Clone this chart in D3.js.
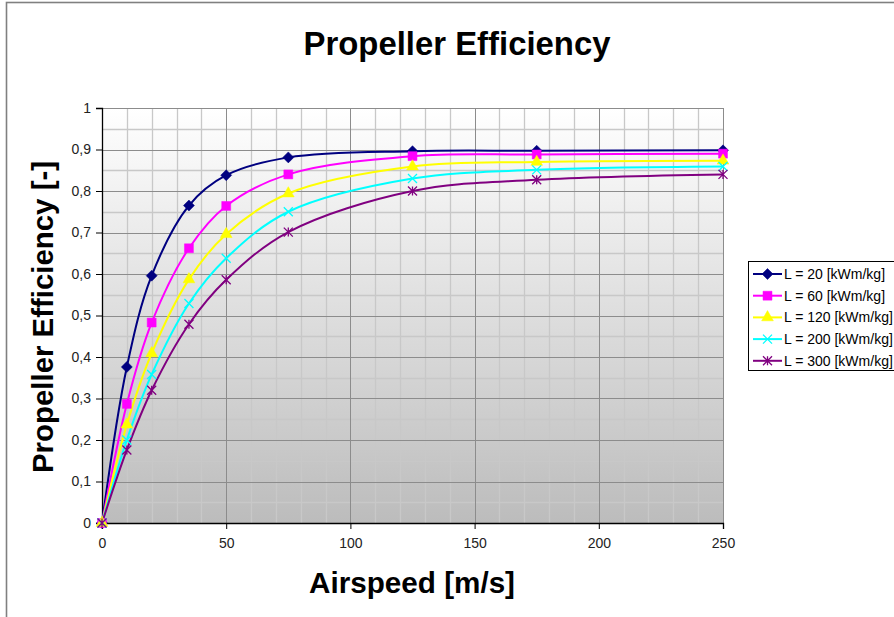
<!DOCTYPE html>
<html><head><meta charset="utf-8">
<script src="https://cdn.jsdelivr.net/npm/d3@7"></script>
<style>body{margin:0;background:#fff;}svg{display:block;font-family:"Liberation Sans",Arial,sans-serif;}</style>
</head><body>
<script>
const airspeed = [0, 10, 20, 35, 50, 75, 125, 175, 250];
const seriesNames = ["L = 20 [kWm/kg]", "L = 60 [kWm/kg]", "L = 120 [kWm/kg]", "L = 200 [kWm/kg]", "L = 300 [kWm/kg]"];
const effL20  = [0, 0.376, 0.596, 0.765, 0.838, 0.881, 0.896, 0.897, 0.898];
const effL60  = [0, 0.287, 0.483, 0.662, 0.764, 0.840, 0.884, 0.888, 0.890];
const effL120 = [0, 0.237, 0.409, 0.587, 0.696, 0.794, 0.859, 0.870, 0.873];
const effL200 = [0, 0.200, 0.358, 0.529, 0.638, 0.750, 0.830, 0.851, 0.859];
const effL300 = [0, 0.176, 0.320, 0.479, 0.586, 0.701, 0.800, 0.827, 0.840];
const xTicks = [0, 50, 100, 150, 200, 250];
const yTicks = [0, 0.1, 0.2, 0.3, 0.4, 0.5, 0.6, 0.7, 0.8, 0.9, 1];

const colors = ["#000080", "#ff00ff", "#ffff00", "#00ffff", "#800080"];
const markers = ["diamond", "square", "triangle", "x", "star"];
const allSeries = [effL20, effL60, effL120, effL200, effL300];

const W = 894, H = 617;
const svg = d3.select("body").append("svg").attr("width", W).attr("height", H);

// chart frame
svg.append("rect").attr("x", 6.5).attr("y", 2.5).attr("width", 1000).attr("height", 1000)
  .attr("fill", "#fff").attr("stroke", "#808080").attr("stroke-width", 1.6);

const x = d3.scaleLinear().domain([0, 250]).range([102, 723]);
const y = d3.scaleLinear().domain([0, 1]).range([523, 108]);

const defs = svg.append("defs");
const grad = defs.append("linearGradient").attr("id", "bg").attr("x1", 0).attr("y1", 0).attr("x2", 0).attr("y2", 1);
grad.append("stop").attr("offset", "0%").attr("stop-color", "#ffffff");
grad.append("stop").attr("offset", "100%").attr("stop-color", "#bcbcbc");

svg.append("rect").attr("x", x(0)).attr("y", y(1)).attr("width", x(250) - x(0)).attr("height", y(0) - y(1))
  .attr("fill", "url(#bg)");

// grid
const g = svg.append("g");
d3.range(0, 251, 10).forEach(v => {
  const major = v % 50 === 0;
  if (!major) g.append("line").attr("x1", Math.round(x(v)) + 0.5).attr("x2", Math.round(x(v)) + 0.5)
    .attr("y1", y(1)).attr("y2", y(0)).attr("stroke", "#c8c8c8").attr("stroke-width", 1.3);
});
d3.range(0, 21).forEach(i => {
  const v = i * 0.05;
  if (i % 2 === 1) g.append("line").attr("y1", Math.round(y(v)) + 0.5).attr("y2", Math.round(y(v)) + 0.5)
    .attr("x1", x(0)).attr("x2", x(250)).attr("stroke", "#c8c8c8").attr("stroke-width", 1.3);
});
xTicks.forEach(v => {
  g.append("line").attr("x1", Math.round(x(v)) + 0.5).attr("x2", Math.round(x(v)) + 0.5)
    .attr("y1", y(1)).attr("y2", y(0)).attr("stroke", "#8c8c8c").attr("stroke-width", 1);
});
yTicks.forEach(v => {
  g.append("line").attr("y1", Math.round(y(v)) + 0.5).attr("y2", Math.round(y(v)) + 0.5)
    .attr("x1", x(0)).attr("x2", x(250)).attr("stroke", "#8c8c8c").attr("stroke-width", 1);
});

// axes
const fmt = d => d3.format("")(Math.round(d * 10) / 10).replace(".", ",");
const yAxis = svg.append("g").attr("transform", `translate(${x(0)},0)`)
  .call(d3.axisLeft(y).tickValues(yTicks).tickSize(6).tickPadding(5).tickFormat(fmt));
const xAxis = svg.append("g").attr("transform", `translate(0,${y(0)})`)
  .call(d3.axisBottom(x).tickValues(xTicks).tickSize(6).tickPadding(9).tickFormat(d3.format("d")));
[yAxis, xAxis].forEach(a => {
  a.select(".domain").attr("stroke", "#000").attr("stroke-width", 1.3);
  a.selectAll(".tick line").attr("stroke", "#000");
  a.selectAll("text").attr("font-size", 14).attr("fill", "#222")
    .attr("font-family", "'Liberation Sans', Arial, sans-serif");
});

// lines
const line = d3.line().x(d => x(d[0])).y(d => y(d[1])).curve(d3.curveCatmullRom.alpha(0.5));
function markerPath(type) {
  switch (type) {
    case "diamond": return "M0,-5.5L5.5,0L0,5.5L-5.5,0Z";
    case "square": return d3.symbol(d3.symbolSquare, 80)();
    case "triangle": return d3.symbol(d3.symbolTriangle, 60)();
  }
}
function drawMarker(sel, type, color, cx, cy) {
  const t = sel.append("g").attr("transform", `translate(${cx},${cy})`);
  if (type === "x" || type === "star") {
    const s = 4.5;
    t.append("path").attr("d", `M${-s},${-s}L${s},${s}M${-s},${s}L${s},${-s}` + (type === "star" ? `M0,${-s}L0,${s}` : ""))
      .attr("stroke", color).attr("stroke-width", 1.3).attr("fill", "none");
  } else {
    t.append("path").attr("d", markerPath(type)).attr("fill", color).attr("stroke", color).attr("stroke-width", 0.5);
  }
}
const plot = svg.append("g");
allSeries.forEach((vals, i) => {
  const pts = airspeed.map((a, j) => [a, vals[j]]);
  plot.append("path").attr("d", line(pts)).attr("fill", "none").attr("stroke", colors[i]).attr("stroke-width", 2);
});
allSeries.forEach((vals, i) => {
  airspeed.forEach((a, j) => drawMarker(plot, markers[i], colors[i], x(a), y(vals[j])));
});

// legend
const lg = svg.append("g");
lg.append("rect").attr("x", 748.5).attr("y", 261.5).attr("width", 200).attr("height", 109)
  .attr("fill", "#fff").attr("stroke", "#000").attr("stroke-width", 1);
seriesNames.forEach((n, i) => {
  const cy = 274 + i * 21.7;
  lg.append("line").attr("x1", 753).attr("x2", 782).attr("y1", cy).attr("y2", cy)
    .attr("stroke", colors[i]).attr("stroke-width", 2);
  drawMarker(lg, markers[i], colors[i], 767.5, cy);
  lg.append("text").attr("x", 784).attr("y", cy + 5).attr("font-size", 14).attr("fill", "#000").text(n);
});

// titles
svg.append("text").attr("x", 457).attr("y", 55).attr("text-anchor", "middle")
  .attr("font-size", 33).attr("font-weight", "bold").attr("textLength", 307).attr("lengthAdjust", "spacingAndGlyphs")
  .text("Propeller Efficiency");
svg.append("text").attr("x", 412).attr("y", 593).attr("text-anchor", "middle")
  .attr("font-size", 30).attr("font-weight", "bold").attr("textLength", 206).attr("lengthAdjust", "spacingAndGlyphs")
  .text("Airspeed [m/s]");
svg.append("text").attr("transform", "translate(53,317) rotate(-90)").attr("text-anchor", "middle")
  .attr("font-size", 30).attr("font-weight", "bold").attr("textLength", 312).attr("lengthAdjust", "spacingAndGlyphs")
  .text("Propeller Efficiency [-]");
</script>
</body></html>
